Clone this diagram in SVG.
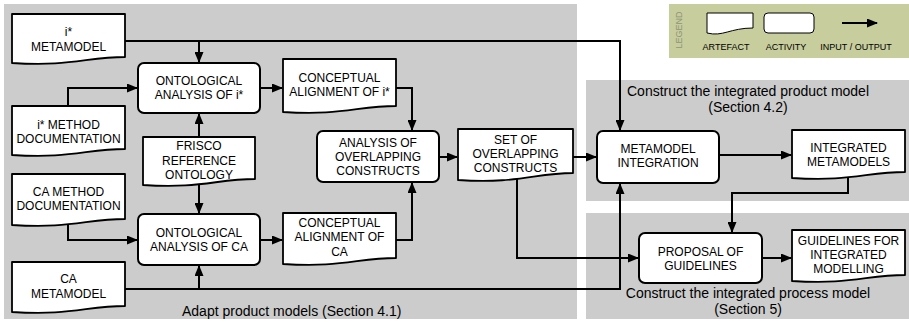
<svg xmlns="http://www.w3.org/2000/svg" width="909" height="322" viewBox="0 0 909 322">
<defs>
<style>
.panel{fill:#cccccc}
.art{fill:#ffffff;stroke:#000;stroke-width:1.8;stroke-linejoin:round}
.act{fill:#ffffff;stroke:#000;stroke-width:2}
.t{font-family:"Liberation Sans",Arial,sans-serif;font-size:12px;fill:#000;text-anchor:middle}
.lbl{font-family:"Liberation Sans",Arial,sans-serif;font-size:14px;fill:#000;text-anchor:middle}
.leg{font-family:"Liberation Sans",Arial,sans-serif;font-size:9px;fill:#000;text-anchor:middle}
.con{fill:none;stroke:#000;stroke-width:2}
</style>
<marker id="ah" markerUnits="userSpaceOnUse" markerWidth="11" markerHeight="9" refX="10" refY="4.5" orient="auto">
<path d="M0,0 L11,4.5 L0,9 Z" fill="#000"/>
</marker>
</defs>
<rect x="0" y="0" width="909" height="322" fill="#ffffff"/>
<g id="panels">
<rect class="panel" x="4" y="4" width="573" height="315"/>
<rect class="panel" x="586" y="80" width="323" height="121"/>
<rect class="panel" x="586" y="213" width="323" height="106"/>
</g>
<g id="legend">
<rect x="669" y="4" width="240" height="54" fill="#c7cd9c"/>
<text transform="translate(682,30) rotate(-90)" font-family="Liberation Sans, Arial, sans-serif" font-size="9" fill="#8e9378" text-anchor="middle">LEGEND</text>
<path d="M707,13 H753 V28 C730,28 723,37 707,33 Z" fill="#fff" stroke="#000" stroke-width="1"/>
<rect x="764" y="13" width="50" height="20" rx="4" fill="#fff" stroke="#000" stroke-width="1"/>
<line x1="842" y1="23" x2="877" y2="23" class="con" marker-end="url(#ah)"/>
<text class="leg" x="726" y="50">ARTEFACT</text>
<text class="leg" x="786" y="50">ACTIVITY</text>
<text class="leg" x="856" y="50">INPUT / OUTPUT</text>
</g>
<g id="connectors">
<path class="con" d="M125,41 H620 V130" marker-end="url(#ah)"/>
<path class="con" d="M199,41 V62" marker-end="url(#ah)"/>
<path class="con" d="M68,106 V88 H137" marker-end="url(#ah)"/>
<path class="con" d="M199,137 V114" marker-end="url(#ah)"/>
<path class="con" d="M199,183 V213" marker-end="url(#ah)"/>
<path class="con" d="M68,224 V240 H137" marker-end="url(#ah)"/>
<path class="con" d="M125,289 H620 V184" marker-end="url(#ah)"/>
<path class="con" d="M199,289 V266" marker-end="url(#ah)"/>
<path class="con" d="M260,88 H282" marker-end="url(#ah)"/>
<path class="con" d="M260,240 H282" marker-end="url(#ah)"/>
<path class="con" d="M396,88 H412 V130" marker-end="url(#ah)"/>
<path class="con" d="M396,240 H412 V183" marker-end="url(#ah)"/>
<path class="con" d="M439,157 H457" marker-end="url(#ah)"/>
<path class="con" d="M573,157 H596" marker-end="url(#ah)"/>
<path class="con" d="M517,176 V258 H638" marker-end="url(#ah)"/>
<path class="con" d="M719,155 H791" marker-end="url(#ah)"/>
<path class="con" d="M848,174 V193 H732 V232" marker-end="url(#ah)"/>
<path class="con" d="M762,258 H791" marker-end="url(#ah)"/>
</g>
<g id="i-metamodel">
<path class="art" d="M12,14 H125 V57 C87,57 70,67 12,63 Z"/>
<text class="t" x="68.5" y="36">i*</text>
<text class="t" x="68.5" y="51">METAMODEL</text>
</g>
<g id="i-method-doc">
<path class="art" d="M12,106 H125 V149 C87,149 70,159 12,155 Z"/>
<text class="t" x="68.5" y="129">i* METHOD</text>
<text class="t" x="68.5" y="143">DOCUMENTATION</text>
</g>
<g id="frisco">
<path class="art" d="M143,137 H255 V179 C217,179 200,189 143,185 Z"/>
<text class="t" x="199" y="150">FRISCO</text>
<text class="t" x="199" y="164.5">REFERENCE</text>
<text class="t" x="199" y="179">ONTOLOGY</text>
</g>
<g id="ca-method-doc">
<path class="art" d="M12,174 H125 V219 C87,219 70,229 12,225 Z"/>
<text class="t" x="68.5" y="196">CA METHOD</text>
<text class="t" x="68.5" y="210">DOCUMENTATION</text>
</g>
<g id="ca-metamodel">
<path class="art" d="M12,262 H125 V306 C87,306 70,316 12,312 Z"/>
<text class="t" x="68.5" y="283">CA</text>
<text class="t" x="68.5" y="298">METAMODEL</text>
</g>
<g id="ont-analysis-i">
<rect class="act" x="138" y="63" width="122" height="50" rx="6"/>
<text class="t" x="199" y="85">ONTOLOGICAL</text>
<text class="t" x="199" y="99">ANALYSIS OF i*</text>
</g>
<g id="ont-analysis-ca">
<rect class="act" x="138" y="214" width="122" height="51" rx="6"/>
<text class="t" x="199" y="236.5">ONTOLOGICAL</text>
<text class="t" x="199" y="251">ANALYSIS OF CA</text>
</g>
<g id="conc-align-i">
<path class="art" d="M283,59 H396 V106 C358,106 341,116 283,112 Z"/>
<text class="t" x="339.5" y="82">CONCEPTUAL</text>
<text class="t" x="339.5" y="96">ALIGNMENT OF i*</text>
</g>
<g id="conc-align-ca">
<path class="art" d="M283,213 H396 V258 C358,258 341,268 283,264 Z"/>
<text class="t" x="339.5" y="227">CONCEPTUAL</text>
<text class="t" x="339.5" y="241">ALIGNMENT OF</text>
<text class="t" x="339.5" y="256">CA</text>
</g>
<g id="analysis-overlap">
<rect class="act" x="317" y="131" width="122" height="51" rx="6"/>
<text class="t" x="378" y="146.5">ANALYSIS OF</text>
<text class="t" x="378" y="161">OVERLAPPING</text>
<text class="t" x="378" y="175">CONSTRUCTS</text>
</g>
<g id="set-overlap">
<path class="art" d="M458,129 H573 V173 C535,173 518,184 458,180 Z"/>
<text class="t" x="515.5" y="144">SET OF</text>
<text class="t" x="515.5" y="158">OVERLAPPING</text>
<text class="t" x="515.5" y="172">CONSTRUCTS</text>
</g>
<g id="metamodel-integration">
<rect class="act" x="597" y="131" width="122" height="52" rx="6"/>
<text class="t" x="658" y="153">METAMODEL</text>
<text class="t" x="658" y="167">INTEGRATION</text>
</g>
<g id="integrated-metamodels">
<path class="art" d="M792,130 H905 V172 C867,172 850,182 792,178 Z"/>
<text class="t" x="848.5" y="152">INTEGRATED</text>
<text class="t" x="848.5" y="166">METAMODELS</text>
</g>
<g id="proposal-guidelines">
<rect class="act" x="639" y="233" width="123" height="50" rx="6"/>
<text class="t" x="700.5" y="255.5">PROPOSAL OF</text>
<text class="t" x="700.5" y="270">GUIDELINES</text>
</g>
<g id="guidelines">
<path class="art" d="M792,230 H905 V275 C867,275 850,285 792,281 Z"/>
<text class="t" x="848.5" y="245">GUIDELINES FOR</text>
<text class="t" x="848.5" y="259">INTEGRATED</text>
<text class="t" x="848.5" y="273">MODELLING</text>
</g>
<g id="labels">
<text class="lbl" x="182" y="316" style="text-anchor:start">Adapt product models (Section 4.1)</text>
<text class="lbl" x="748" y="96">Construct the integrated product model</text>
<text class="lbl" x="748" y="112">(Section 4.2)</text>
<text class="lbl" x="748" y="298">Construct the integrated process model</text>
<text class="lbl" x="748" y="314">(Section 5)</text>
</g>
</svg>
